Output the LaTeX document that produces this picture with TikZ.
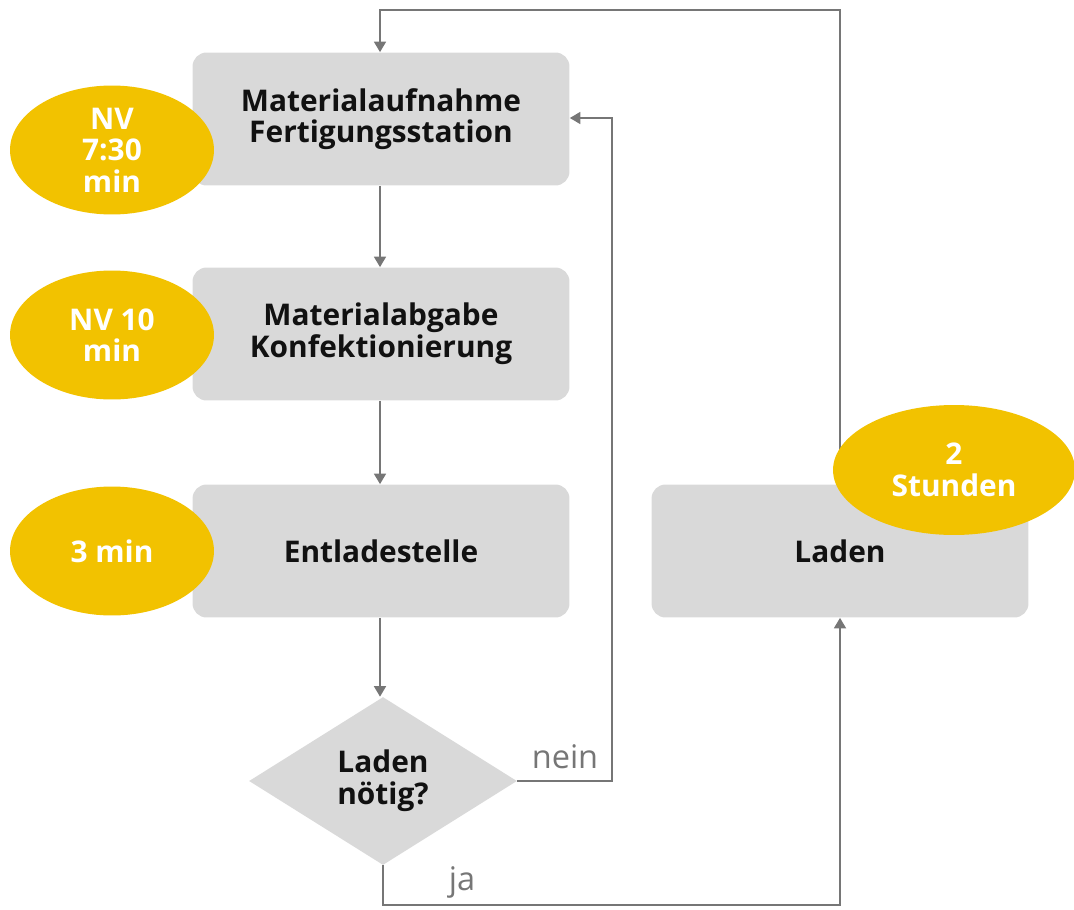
\documentclass[tikz,border=0pt]{standalone}
\usepackage{fontspec}
\setmainfont{Open Sans}
\usetikzlibrary{shapes.geometric,arrows.meta}
\definecolor{boxgray}{HTML}{D9D9D9}
\definecolor{ovalyellow}{HTML}{F2C200}
\definecolor{linegray}{HTML}{767676}
\definecolor{txtdark}{HTML}{111111}
\begin{document}
\begin{tikzpicture}[x=0.02cm,y=-0.02cm,
  stepbox/.style={rectangle, rounded corners=8pt, fill=boxgray, draw=none,
    minimum width=7.54cm, minimum height=2.66cm, align=center,
    font=\fontsize{17}{18}\selectfont\bfseries, text=txtdark},
  decision/.style={diamond, fill=boxgray, draw=none, inner sep=0pt, aspect=1.6,
    minimum width=5.36cm, minimum height=3.36cm, align=center,
    font=\fontsize{17}{18}\selectfont\bfseries, text=txtdark},
  timeoval/.style={ellipse, fill=ovalyellow, draw=none, inner sep=0pt,
    minimum width=4.08cm, minimum height=2.58cm, align=center,
    font=\fontsize{17}{18}\selectfont\bfseries, text=white},
  conn/.style={draw=linegray, line width=1.1pt},
  arr/.style={conn, -{Triangle[width=6.8pt,length=6pt]}},
  lbl/.style={font=\fontsize{18.5}{20}\selectfont, text=linegray}]
\useasboundingbox (0,0) rectangle (1074,909);
% boxes
\node[stepbox] (b1) at (381,119) {Materialaufnahme\\Fertigungsstation};
\node[stepbox] (b2) at (381,334) {Materialabgabe\\Konfektionierung};
\node[stepbox] (b3) at (381,551) {Entladestelle};
\node[stepbox] (b4) at (840,551) {Laden};
\node[decision] (d) at (383,781) {Laden\\nötig?};
% coordinates
\coordinate (tl) at (380,10);
\coordinate (tr) at (840,10);
\coordinate (nr) at (612,781);
\coordinate (nt) at (612,118);
\coordinate (jb) at (383,905);
\coordinate (jr) at (840,905);
% connectors
\draw[arr] (b1.south -| 380,0) -- (b2.north -| 380,0);
\draw[arr] (b2.south -| 380,0) -- (b3.north -| 380,0);
\draw[arr] (b3.south -| 380,0) -- (d.north -| 380,0);
\draw[arr] (d.east) -- (nr) -- (nt) -- (b1.east |- nt);
\draw[arr] (d.south) -- (jb) -- (jr) -- (b4.south);
\draw[arr] (b4.north) -- (tr) -- (tl) -- (b1.north -| tl);
\node[lbl] (lnein) at (565,757) {nein};
\node[lbl] (lja) at (462,882) {ja};
% ovals
\node[timeoval] (e1) at (112,150) {NV\\7:30\\min};
\node[timeoval] (e2) at (112,335) {NV 10\\min};
\node[timeoval] (e3) at (112,551) {3 min};
\node[timeoval, minimum width=4.84cm, minimum height=2.6cm] (e4) at (954,470) {2\\Stunden};
\end{tikzpicture}
\end{document}
